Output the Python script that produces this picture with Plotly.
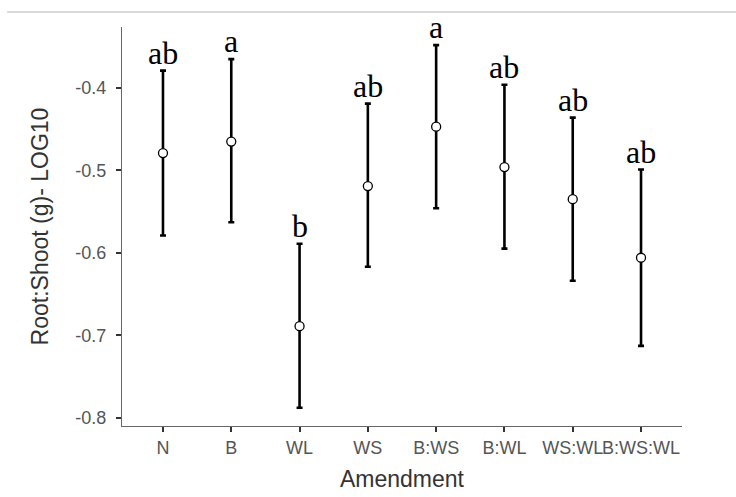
import plotly.graph_objects as go

# Amendment treatments and log10 root:shoot ratio summaries
amendments = ["N", "B", "WL", "WS", "B:WS", "B:WL", "WS:WL", "B:WS:WL"]
means = [-0.479, -0.465, -0.689, -0.519, -0.447, -0.496, -0.535, -0.606]
err_upper = [0.100, 0.100, 0.100, 0.100, 0.099, 0.100, 0.099, 0.107]
err_lower = [0.100, 0.098, 0.099, 0.098, 0.099, 0.099, 0.099, 0.107]
letters = ["ab", "a", "b", "ab", "a", "ab", "ab", "ab"]
y_ticks = [-0.8, -0.7, -0.6, -0.5, -0.4]

x_idx = list(range(len(amendments)))

fig = go.Figure()
fig.add_trace(go.Scatter(
    x=x_idx,
    y=means,
    mode="markers",
    marker=dict(size=9, color="white", line=dict(color="black", width=1.3)),
    error_y=dict(
        type="data",
        symmetric=False,
        array=err_upper,
        arrayminus=err_lower,
        color="black",
        thickness=2.6,
        width=3,
    ),
    showlegend=False,
    hoverinfo="skip",
))

# significance letters above each upper whisker
for xi, m, eu, lab in zip(x_idx, means, err_upper, letters):
    fig.add_annotation(
        x=xi, y=m + eu, text=lab, showarrow=False,
        xanchor="center", yanchor="bottom", yshift=-2,
        font=dict(family="Liberation Serif", size=32, color="black"),
    )

# thin rule across the top of the figure
fig.add_shape(
    type="line", xref="paper", yref="paper",
    x0=-0.205, x1=1.1, y0=1.0376, y1=1.0376,
    line=dict(color="#cccccc", width=1.5),
)

axis_font = dict(family="Liberation Sans", size=18, color="#555555")
fig.update_layout(
    width=736, height=497,
    margin=dict(l=122, r=54, t=27, b=71),
    paper_bgcolor="white",
    plot_bgcolor="white",
    xaxis=dict(
        range=[-0.6, 7.6],
        tickmode="array", tickvals=x_idx, ticktext=amendments,
        tickangle=0, automargin=False,
        showline=True, linecolor="#666666", linewidth=1.3,
        ticks="outside", ticklen=5, tickcolor="#333333", tickwidth=1.5,
        showgrid=False, zeroline=False,
        tickfont=axis_font,
        title=dict(text="Amendment", standoff=14,
                   font=dict(family="Liberation Sans", size=23, color="#333333")),
    ),
    yaxis=dict(
        range=[-0.8102, -0.326],
        tickmode="array", tickvals=y_ticks,
        ticktext=[f"{v:.1f}" for v in y_ticks],
        automargin=False,
        showline=True, linecolor="#666666", linewidth=1.3,
        ticks="outside", ticklen=5, tickcolor="#333333", tickwidth=1.5,
        showgrid=False, zeroline=False,
        tickfont=axis_font,
        ticklabelstandoff=6,
        title=dict(text="Root:Shoot (g)- LOG10", standoff=20,
                   font=dict(family="Liberation Sans", size=23, color="#333333")),
    ),
)

fig.write_html("out.html")
